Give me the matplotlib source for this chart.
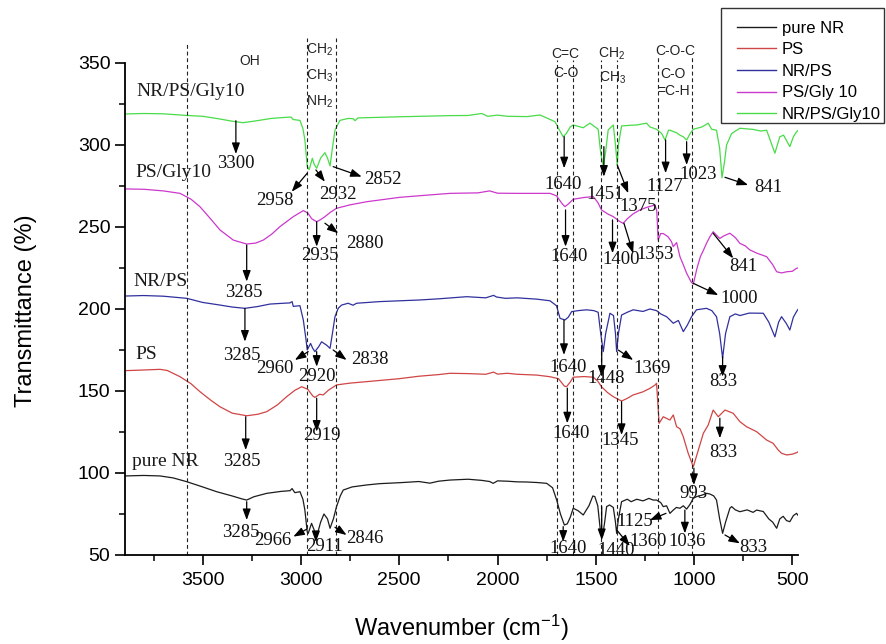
import matplotlib
matplotlib.use('Agg')
import matplotlib.pyplot as plt
from matplotlib.ticker import FixedLocator
from matplotlib.patches import Rectangle

plt.rcParams['font.family'] = ['Liberation Sans', 'DejaVu Sans']
plt.rcParams['mathtext.fontset'] = 'custom'
plt.rcParams['mathtext.rm'] = 'Liberation Sans'
plt.rcParams['mathtext.it'] = 'Liberation Sans:italic'
plt.rcParams['mathtext.bf'] = 'Liberation Sans:bold'

# ---------------- data ----------------
series_names = ['pure NR', 'PS', 'NR/PS', 'PS/Gly 10', 'NR/PS/Gly10']
series_tags = ['pure NR', 'PS', 'NR/PS', 'PS/Gly10', 'NR/PS/Gly10']

nr_wn = [3895, 3800, 3717, 3650, 3581, 3500, 3429, 3350, 3300, 3276, 3240, 3174, 3100,
         3056, 3045, 3031, 3005, 2990, 2980, 2968, 2963, 2946, 2932, 2920, 2900, 2883,
         2865, 2852, 2835, 2819, 2800, 2785, 2740, 2666, 2600, 2496, 2400, 2344, 2300,
         2242, 2150, 2080, 2040, 2022, 2000, 1950, 1900, 1850, 1800, 1750, 1720, 1699,
         1680, 1660, 1645, 1630, 1615, 1590, 1564, 1535, 1515, 1505, 1490, 1476, 1466,
         1455, 1445, 1430, 1411, 1400, 1394, 1385, 1369, 1340, 1320, 1292, 1260, 1230,
         1208, 1191, 1170, 1157, 1140, 1123, 1106, 1090, 1072, 1055, 1038, 1020, 1004,
         987, 960, 937, 920, 900, 886, 870, 855, 840, 818, 809, 790, 767, 730, 700, 682,
         648, 620, 600, 580, 564, 547, 530, 513, 495, 479, 470]
nr_t = [98.2, 98.5, 98.2, 97.0, 94.7, 91.5, 88.6, 86.0, 84.2, 83.5, 85.5, 87.6, 88.8,
        89.2, 90.5, 88.0, 88.6, 84.0, 77.4, 64.0, 63.2, 69.3, 65.0, 61.2, 70.0, 75.0,
        72.0, 66.3, 72.0, 79.5, 86.0, 89.6, 91.5, 92.7, 93.5, 94.1, 94.8, 93.8, 95.0,
        95.7, 96.2, 95.5, 94.8, 93.7, 95.2, 95.0, 94.6, 94.5, 94.2, 93.7, 91.0, 83.5,
        75.0, 68.3, 69.0, 73.0, 78.5, 77.0, 74.4, 80.0, 86.0, 85.6, 80.0, 64.0, 61.2,
        70.0, 79.5, 80.5, 79.0, 70.0, 63.2, 72.0, 82.5, 84.0, 82.5, 84.0, 83.0, 84.5,
        83.5, 83.5, 82.0, 79.5, 80.0, 75.4, 77.4, 79.0, 78.5, 80.0, 78.0, 81.0, 84.6,
        85.6, 86.5, 87.6, 87.2, 86.0, 83.5, 72.0, 63.2, 70.0, 78.5, 79.5, 77.5, 76.4,
        77.5, 76.0, 77.4, 76.5, 72.0, 70.0, 66.3, 72.0, 73.6, 71.0, 70.3, 74.0, 75.4,
        74.0]

ps_wn = [3895, 3800, 3717, 3680, 3615, 3560, 3514, 3460, 3412, 3350, 3276, 3220, 3174,
         3120, 3073, 3030, 2996, 2965, 2940, 2929, 2905, 2887, 2860, 2819, 2750, 2666,
         2500, 2400, 2300, 2242, 2150, 2060, 2020, 2000, 1950, 1900, 1800, 1733, 1690,
         1660, 1649, 1630, 1615, 1560, 1513, 1490, 1471, 1440, 1411, 1390, 1369, 1340,
         1310, 1260, 1225, 1200, 1191, 1178, 1157, 1123, 1106, 1089, 1072, 1055, 1030,
         1004, 979, 953, 928, 903, 877, 843, 801, 767, 733, 682, 631, 598, 572, 555,
         529, 500, 479, 470]
ps_t = [162.4, 162.8, 163.2, 162.5, 158.7, 154.5, 149.6, 144.5, 140.4, 136.5, 134.9,
        135.8, 137.4, 141.5, 146.5, 150.5, 152.6, 151.0, 147.0, 146.1, 148.0, 147.6,
        150.5, 153.7, 154.8, 155.7, 157.5, 159.0, 160.0, 160.8, 160.6, 160.2, 161.5,
        160.3, 160.8, 160.2, 159.7, 158.7, 157.5, 153.0, 152.6, 155.5, 158.4, 158.8,
        158.4, 156.0, 152.6, 149.0, 146.5, 145.2, 143.9, 145.5, 147.6, 149.5, 151.6,
        153.5, 154.7, 130.3, 134.3, 132.3, 135.4, 128.2, 127.0, 122.1, 112.0, 103.8,
        113.8, 124.2, 129.3, 138.4, 134.3, 138.4, 136.4, 131.3, 128.2, 125.2, 120.1,
        118.1, 114.0, 112.0, 111.0, 111.5, 112.4, 113.0]

nrps_wn = [3895, 3800, 3700, 3581, 3500, 3412, 3350, 3285, 3220, 3158, 3090, 3056, 3045,
           3039, 3005, 2988, 2975, 2968, 2951, 2940, 2929, 2910, 2895, 2870, 2852, 2840,
           2827, 2810, 2793, 2760, 2735, 2717, 2600, 2395, 2300, 2157, 2060, 2020, 2005,
           1960, 1900, 1800, 1733, 1700, 1682, 1657, 1640, 1623, 1590, 1547, 1510, 1488,
           1475, 1462, 1450, 1428, 1410, 1400, 1394, 1385, 1369, 1340, 1310, 1260, 1225,
           1191, 1170, 1140, 1120, 1106, 1080, 1055, 1035, 1013, 988, 960, 937, 910, 886,
           870, 855, 840, 818, 790, 767, 720, 648, 620, 589, 570, 555, 530, 513, 495, 479,
           470]
nrps_t = [207.9, 208.2, 207.8, 206.5, 204.0, 202.4, 201.2, 200.4, 201.5, 203.0, 203.5,
          203.7, 204.5, 201.6, 202.0, 193.3, 182.0, 175.0, 179.0, 176.0, 174.0, 177.0,
          180.0, 178.0, 176.0, 185.0, 195.3, 200.5, 202.4, 203.5, 202.3, 203.5, 204.5,
          205.5, 206.2, 207.5, 206.8, 208.3, 207.3, 206.5, 206.8, 206.0, 205.0, 202.0,
          194.3, 193.3, 195.0, 198.4, 199.0, 199.5, 199.0, 198.0, 185.0, 174.0, 185.0,
          197.4, 196.0, 185.0, 174.0, 185.0, 196.3, 198.0, 199.5, 198.5, 200.0, 199.0,
          197.0, 195.3, 193.0, 191.3, 193.0, 186.2, 190.0, 195.3, 199.5, 200.0, 200.4,
          199.0, 195.3, 185.0, 170.0, 185.0, 195.3, 197.0, 196.0, 197.5, 197.4, 192.0,
          183.0, 192.0, 195.3, 191.0, 187.2, 195.0, 198.4, 200.0]

psg_wn = [3895, 3800, 3700, 3615, 3560, 3514, 3460, 3412, 3344, 3276, 3230, 3192, 3150,
          3107, 3039, 2988, 2965, 2945, 2920, 2900, 2878, 2850, 2819, 2750, 2666, 2496,
          2350, 2242, 2100, 2040, 2000, 1900, 1800, 1733, 1700, 1670, 1657, 1640, 1615,
          1560, 1513, 1490, 1471, 1440, 1411, 1380, 1361, 1340, 1310, 1276, 1240, 1199,
          1190, 1183, 1170, 1157, 1132, 1115, 1106, 1089, 1072, 1055, 1038, 1015, 1004,
          985, 968, 950, 937, 920, 903, 886, 869, 850, 818, 790, 767, 740, 716, 680, 631,
          600, 580, 555, 529, 500, 479, 470]
psg_t = [273.2, 273.0, 272.0, 270.5, 267.0, 262.4, 255.0, 248.2, 242.0, 239.6, 240.2,
         242.0, 245.5, 250.2, 256.3, 260.0, 258.5, 255.0, 253.2, 254.5, 256.3, 259.0,
         261.4, 263.5, 265.4, 268.1, 269.5, 270.5, 270.8, 272.0, 270.6, 270.5, 270.5,
         270.5, 269.0, 264.0, 262.4, 264.0, 266.9, 268.0, 268.5, 265.0, 260.4, 258.0,
         256.3, 253.5, 252.2, 255.0, 258.0, 260.4, 262.0, 263.4, 260.0, 242.0, 246.0,
         246.0, 244.0, 241.0, 238.0, 240.5, 231.9, 227.0, 221.8, 216.5, 215.2, 225.0,
         231.9, 236.5, 240.0, 244.0, 247.1, 245.0, 243.0, 244.5, 246.2, 243.5, 240.0,
         238.5, 236.0, 234.0, 231.9, 227.0, 222.7, 222.0, 222.7, 223.0, 224.8, 225.0]

nrpsg_wn = [3895, 3800, 3700, 3580, 3500, 3420, 3350, 3295, 3240, 3150, 3073, 3050, 3039,
            3005, 2990, 2980, 2968, 2958, 2942, 2932, 2920, 2900, 2878, 2865, 2852, 2840,
            2827, 2802, 2760, 2734, 2725, 2710, 2500, 2242, 2150, 2080, 2050, 2000, 1950,
            1850, 1784, 1750, 1708, 1680, 1666, 1650, 1630, 1615, 1564, 1530, 1488, 1475,
            1462, 1450, 1437, 1411, 1400, 1391, 1385, 1369, 1327, 1292, 1242, 1225, 1191,
            1165, 1148, 1130, 1123, 1090, 1072, 1055, 1038, 1020, 1004, 960, 928, 911,
            886, 870, 858, 845, 835, 809, 767, 700, 660, 631, 610, 589, 564, 545, 513, 495,
            479, 470]
nrpsg_t = [318.9, 319.2, 319.0, 318.0, 317.5, 316.0, 314.5, 313.6, 314.5, 316.2, 316.9,
           317.0, 315.5, 315.0, 310.0, 303.0, 287.0, 285.0, 291.9, 288.0, 285.8, 292.0,
           295.3, 292.0, 287.2, 298.0, 309.0, 315.0, 316.2, 316.0, 314.8, 316.5, 317.2,
           317.9, 318.0, 319.2, 317.5, 318.2, 317.5, 317.3, 318.3, 316.5, 314.2, 308.0,
           305.0, 307.0, 311.0, 312.2, 310.5, 313.3, 309.6, 295.0, 286.8, 296.0, 309.2,
           312.2, 300.0, 287.8, 300.0, 311.6, 312.0, 312.2, 313.3, 311.0, 309.6, 307.0,
           303.0, 309.0, 309.0, 307.5, 306.0, 305.0, 303.0, 307.0, 309.6, 311.0, 313.3,
           309.6, 309.0, 298.0, 280.0, 290.0, 300.0, 307.0, 310.2, 309.5, 308.5, 309.0,
           302.0, 295.0, 305.0, 306.0, 299.0, 305.0, 308.0, 309.0]

colors = ['#1c1c1c', '#d04545', '#30309e', '#cc38cc', '#48dc48']

# label positions of series names (wavenumber, transmittance)
series_label_wn = [3858, 3844, 3853, 3841, 3836]
series_label_t = [106.9, 172.0, 216.6, 283.4, 332.5]

# peak annotations: text, text pos, arrow tail, arrow head
annotations = [
    ('3300', 3331, 288.9, 3331, 314.8, 3331, 294.5),
    ('2958', 3132, 265.9, 2968, 282.8, 3047, 271.5),
    ('2932', 2810, 270.1, 2924, 284.8, 2878, 277.6),
    ('2852', 2584, 278.7, 2836, 286.8, 2691, 280.7),
    ('1640', 1666, 276.2, 1661, 305.1, 1661, 285.8),
    ('1451', 1454, 270.1, 1459, 299.0, 1459, 280.7),
    ('1375', 1284, 262.4, 1391, 287.8, 1335, 270.6),
    ('1127', 1148, 274.6, 1145, 303.1, 1145, 282.8),
    ('1023', 979, 281.7, 1038, 302.0, 1038, 287.8),
    ('841', 623, 274.2, 843, 280.3, 725, 275.6),
    ('3285', 3290, 210.0, 3276, 239.0, 3276, 216.7),
    ('2935', 2903, 232.5, 2920, 253.2, 2920, 238.0),
    ('2880', 2674, 240.1, 2878, 252.3, 2810, 246.2),
    ('1640', 1635, 231.9, 1654, 260.4, 1654, 238.0),
    ('1400', 1369, 229.9, 1415, 254.3, 1415, 234.0),
    ('1353', 1199, 233.2, 1357, 252.3, 1310, 234.0),
    ('841', 750, 225.8, 903, 246.2, 801, 230.9),
    ('1000', 771, 206.5, 1005, 215.7, 877, 208.5),
    ('3285', 3302, 171.4, 3285, 200.4, 3285, 180.1),
    ('2960', 3132, 163.8, 2963, 174.0, 3031, 168.9),
    ('2920', 2920, 158.7, 2920, 174.0, 2920, 164.8),
    ('2838', 2649, 169.3, 2836, 175.0, 2768, 168.9),
    ('1640', 1640, 164.5, 1662, 193.3, 1662, 172.0),
    ('1448', 1445, 157.8, 1470, 177.0, 1470, 158.7),
    ('1369', 1216, 163.8, 1386, 175.0, 1310, 168.9),
    ('833', 852, 155.7, 855, 170.9, 855, 158.7),
    ('3285', 3299, 106.9, 3281, 134.3, 3281, 114.0),
    ('2919', 2895, 122.7, 2920, 145.6, 2920, 125.2),
    ('1640', 1628, 123.8, 1645, 151.7, 1645, 130.3),
    ('1345', 1377, 119.7, 1369, 143.5, 1369, 123.2),
    ('833', 852, 112.4, 869, 133.4, 869, 121.2),
    ('993', 1005, 87.6, 1001, 102.9, 1001, 92.7),
    ('3285', 3307, 63.8, 3276, 82.5, 3276, 71.3),
    ('2966', 3141, 59.1, 2971, 65.7, 3039, 61.2),
    ('2911', 2878, 55.1, 2924, 63.2, 2924, 57.9),
    ('2846', 2674, 60.2, 2827, 66.9, 2768, 62.2),
    ('1640', 1640, 53.7, 1666, 67.3, 1666, 58.1),
    ('1440', 1397, 53.0, 1470, 79.5, 1470, 59.1),
    ('1360', 1235, 58.1, 1393, 65.2, 1327, 55.5),
    ('1125', 1300, 70.3, 1143, 75.4, 1225, 71.3),
    ('1036', 1038, 58.1, 1047, 77.4, 1047, 63.2),
    ('833', 700, 54.7, 843, 62.2, 767, 57.1),
]

# vertical dashed guide lines (wavenumber, top)
guide_wn = [3578, 2970, 2823, 1699, 1616, 1476, 1394, 1182, 1010]
guide_top = [363, 365, 365, 352, 352, 352, 352, 355, 355]

# group labels (text, wavenumber, transmittance)
group_labels = [
    ('OH', 3263, 351.2),
    (r'CH$_{\mathregular{2}}$', 2903, 358.0),
    (r'CH$_{\mathregular{3}}$', 2903, 342.1),
    (r'NH$_{\mathregular{2}}$', 2903, 326.4),
    ('C=C', 1654, 355.3),
    ('C-O', 1654, 343.7),
    (r'CH$_{\mathregular{2}}$', 1420, 355.3),
    (r'CH$_{\mathregular{3}}$', 1415, 340.7),
    ('C-O-C', 1098, 357.5),
    ('C-O', 1109, 343.3),
    ('=C-H', 1103, 333.1),
]

x_major = [3500, 3000, 2500, 2000, 1500, 1000, 500]
x_minor = [3750, 3250, 2750, 2250, 1750, 1250, 750]
y_major = [50, 100, 150, 200, 250, 300, 350]
y_minor = [75, 125, 175, 225, 275, 325]

# ---------------- figure ----------------
fig = plt.figure(figsize=(8.86, 6.44), dpi=100)
ax = fig.add_axes([0.1411, 0.1382, 0.7599, 0.8022])

all_wn = [nr_wn, ps_wn, nrps_wn, psg_wn, nrpsg_wn]
all_t = [nr_t, ps_t, nrps_t, psg_t, nrpsg_t]
lines = []
for wn, t, c, name in zip(all_wn, all_t, colors, series_names):
    ln, = ax.plot(wn, t, color=c, lw=0.9, label=name)
    lines.append(ln)

ax.vlines(guide_wn, 50, guide_top, colors='#222222', linestyles=(0, (3.5, 2.5)),
          lw=0.8, clip_on=False)

serif = ['Liberation Serif', 'DejaVu Serif']
for tag, xw, yt in zip(series_tags, series_label_wn, series_label_t):
    ax.text(xw, yt, tag, family=serif, fontsize=14, ha='left', va='center',
            color='#1a1a1a')

for txt, tx, ty, ax0, ay0, ax1, ay1 in annotations:
    ax.annotate('', xy=(ax1, ay1), xytext=(ax0, ay0),
                arrowprops=dict(arrowstyle='-|>,head_length=0.55,head_width=0.2',
                                color='black', lw=0.9, mutation_scale=12,
                                shrinkA=0, shrinkB=0), annotation_clip=False)
    ax.text(tx, ty, txt, family=serif, fontsize=13.5, ha='center', va='center',
            color='#111111', clip_on=False)

for txt, gx, gy in group_labels:
    ax.text(gx, gy, txt, fontsize=10, ha='center', va='center', color='#222222',
            clip_on=False)

ax.set_xlim(3895, 470)
ax.set_ylim(50, 365)
for s in ['top', 'right']:
    ax.spines[s].set_visible(False)
ax.spines['left'].set_bounds(50, 350)
ax.spines['left'].set_linewidth(1.3)
ax.spines['bottom'].set_linewidth(1.3)

ax.xaxis.set_major_locator(FixedLocator(x_major))
ax.xaxis.set_minor_locator(FixedLocator(x_minor))
ax.yaxis.set_major_locator(FixedLocator(y_major))
ax.yaxis.set_minor_locator(FixedLocator(y_minor))
ax.tick_params(axis='both', which='major', direction='out', length=7.5, width=1.2,
               labelsize=14)
ax.tick_params(axis='both', which='minor', direction='out', length=4.5, width=1.1)
ax.tick_params(axis='x', which='major', pad=5)
ax.tick_params(axis='y', which='major', pad=3)

ax.set_xlabel(r'Wavenumber (cm$^{\mathregular{-1}}$)', fontsize=17)
ax.set_ylabel('Transmittance (%)', fontsize=17)
ax.xaxis.set_label_coords(0.5, -0.112)
ax.yaxis.set_label_coords(-0.130, 0.473)

leg = fig.legend(handles=lines, labels=series_names, loc='upper left',
                 bbox_to_anchor=(737 / 886, 1 - 20.5 / 644), frameon=False,
                 fontsize=12, handlelength=2.35, handletextpad=0.35,
                 labelspacing=0.40, borderpad=0, borderaxespad=0)
for lh in leg.get_lines():
    lh.set_linewidth(1.0)

fig.patches.append(Rectangle((720.7 / 886, 1 - 123.3 / 644), (884 - 720.7) / 886,
                             (123.3 - 8.3) / 644, transform=fig.transFigure,
                             fill=False, edgecolor='#333333', lw=1.0))

fig.savefig('out.png', dpi=100)
